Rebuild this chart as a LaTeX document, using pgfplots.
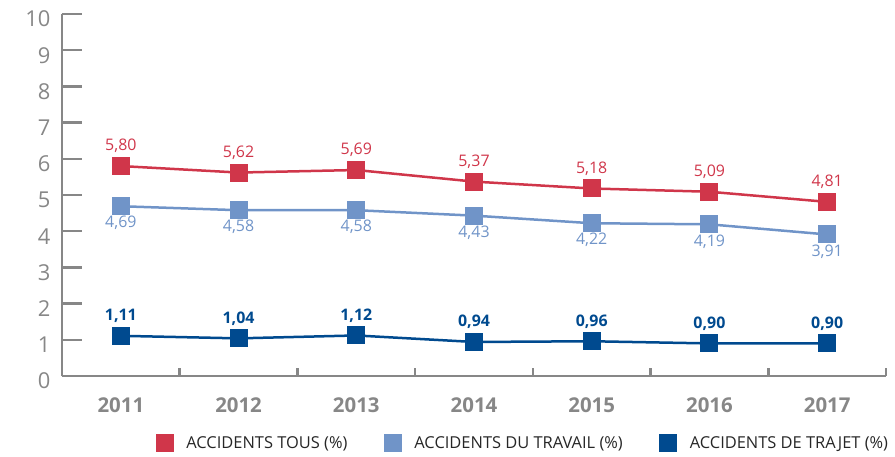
\documentclass[border=0pt]{standalone}
\usepackage{fontspec}
\setmainfont{Open Sans}
\newfontfamily\legfont{Open Sans}
\usepackage{pgfplots}
\pgfplotsset{compat=1.18}
\definecolor{cred}{HTML}{D0364A}
\definecolor{clblue}{HTML}{7094C8}
\definecolor{cdblue}{HTML}{004A8F}
\definecolor{cgray}{HTML}{878787}
\begin{document}
\begin{tikzpicture}
\begin{axis}[
  name=ax,
  scale only axis,
  width=824bp, height=362bp,
  xmin=-0.5, xmax=6.5, ymin=0, ymax=10,
  axis lines=left,
  axis line style={-, draw=cgray, line width=2.5bp},
  xtick={0,1,2,3,4,5,6},
  xticklabels={2011,2012,2013,2014,2015,2016,2017},
  minor xtick={-0.5,0.5,...,6.5},
  minor tick length=8bp,
  major tick length=20bp,
  tick align=inside,
  major x tick style={draw=none},
  minor x tick style={draw=cgray, line width=2.5bp},
  major y tick style={draw=cgray, line width=2.5bp},
  ytick={0,1,...,10},
  /pgf/number format/assume math mode=true,
  yticklabel style={font=\fontsize{22}{24}\selectfont, text=cgray, xshift=-7bp, yshift=-5bp},
  xticklabel style={font=\bfseries\fontsize{20.5}{22}\selectfont, text=cgray, anchor=base, yshift=-36bp},
  clip=false,
  line width=2.5bp,
  mark size=8.5bp,
  nodes near coords,
  nodes near coords style={font=\fontsize{16}{18}\selectfont, anchor=center,
    /pgf/number format/fixed, /pgf/number format/fixed zerofill, /pgf/number format/precision=2,
    /pgf/number format/use comma, /pgf/number format/assume math mode=true},
  legend columns=3,
  legend style={draw=none, fill=none, inner sep=0pt, at={(0.113,-0.185)}, anchor=west,
    font=\legfont\fontsize{16.5}{18}\selectfont, text=black!85,
    /tikz/every even column/.append style={column sep=35bp},
    /tikz/every odd column/.append style={column sep=11bp}},
  legend image code/.code={\draw[#1,mark size=8.5bp] plot coordinates {(0bp,0bp)};},
]
\addplot[color=cred, mark=square*, mark options={solid, line width=0pt},
  nodes near coords style={text=cred, yshift=20bp}]
  coordinates {(0,5.80) (1,5.62) (2,5.69) (3,5.37) (4,5.18) (5,5.09) (6,4.81)};
\addlegendentry{ACCIDENTS TOUS (\%)}
\addplot[color=clblue, mark=square*, mark options={solid, line width=0pt},
  nodes near coords style={text=clblue, yshift=-17bp}]
  coordinates {(0,4.69) (1,4.58) (2,4.58) (3,4.43) (4,4.22) (5,4.19) (6,3.91)};
\addlegendentry{ACCIDENTS DU TRAVAIL (\%)}
\addplot[color=cdblue, mark=square*, mark options={solid, line width=0pt},
  nodes near coords style={text=cdblue, yshift=20bp, font=\bfseries\fontsize{16}{18}\selectfont}]
  coordinates {(0,1.11) (1,1.04) (2,1.12) (3,0.94) (4,0.96) (5,0.90) (6,0.90)};
\addlegendentry{ACCIDENTS DE TRAJET (\%)}
\end{axis}
\path ([shift={(-62bp,-80bp)}]ax.south west) rectangle ([shift={(9bp,14bp)}]ax.north east);
\end{tikzpicture}
\end{document}
